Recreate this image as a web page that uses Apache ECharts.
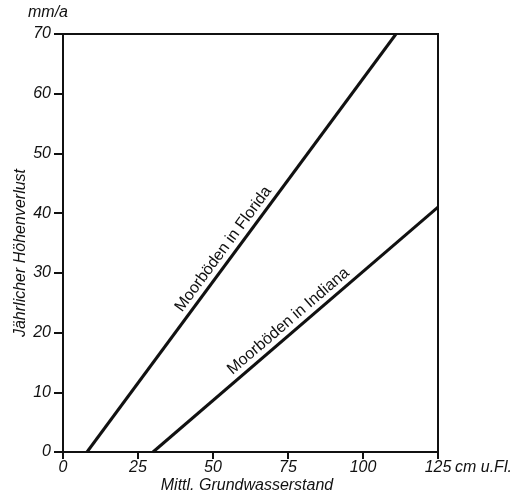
<!DOCTYPE html>
<html>
<head>
<meta charset="utf-8">
<script src="https://cdn.jsdelivr.net/npm/echarts@6/dist/echarts.min.js"></script>
<style>
  html, body { margin: 0; padding: 0; background: #fff; }
  #chart { width: 517px; height: 497px; }
</style>
</head>
<body>
<div id="chart"></div>
<script>
// values
const xTicks = [0, 25, 50, 75, 100, 125];
const yTicks = [0, 10, 20, 30, 40, 50, 60, 70];
const florida = [[8, 0], [111, 70]];
const indiana = [[30, 0], [125, 41]];
const floridaLabel = "Moorböden in Florida";
const indianaLabel = "Moorböden in Indiana";

const font = "'Liberation Sans', Arial, sans-serif";
const myChart = echarts.init(document.getElementById("chart"));

const option = {
  animation: false,
  grid: {
    left: 63,
    right: 79,
    top: 34,
    bottom: 45,
    show: true,
    borderColor: "#111",
    borderWidth: 2,
  },
  xAxis: {
    type: "value",
    min: xTicks[0],
    max: xTicks[xTicks.length - 1],
    interval: xTicks[1] - xTicks[0],
    axisLine: { show: true, lineStyle: { color: "#111", width: 2 } },
    axisTick: { show: true, length: 7, lineStyle: { color: "#111", width: 2 } },
    axisLabel: {
      color: "#111",
      fontSize: 16,
      fontStyle: "italic",
      fontFamily: font,
      margin: 8,
    },
    splitLine: { show: false },
  },
  yAxis: {
    type: "value",
    min: yTicks[0],
    max: yTicks[yTicks.length - 1],
    interval: yTicks[1] - yTicks[0],
    axisLine: { show: true, lineStyle: { color: "#111", width: 2 } },
    axisTick: { show: true, length: 9, lineStyle: { color: "#111", width: 2 } },
    axisLabel: {
      color: "#111",
      fontSize: 16,
      fontStyle: "italic",
      fontFamily: font,
      margin: 12,
    },
    splitLine: { show: false },
  },
  series: [
    {
      type: "line",
      data: florida,
      symbol: "none",
      lineStyle: { color: "#111", width: 3 },
    },
    {
      type: "line",
      data: indiana,
      symbol: "none",
      lineStyle: { color: "#111", width: 3 },
    },
  ],
};

myChart.setOption(option);

// label a line along its slope, a bit above it
const lineLabel = (pts, t, text) => {
  const a = myChart.convertToPixel({ gridIndex: 0 }, pts[0]);
  const b = myChart.convertToPixel({ gridIndex: 0 }, pts[1]);
  const ang = Math.atan2(a[1] - b[1], b[0] - a[0]);
  const x = a[0] + (b[0] - a[0]) * t - Math.sin(ang) * 11;
  const y = a[1] + (b[1] - a[1]) * t - Math.cos(ang) * 11;
  return {
    type: "text",
    x: x,
    y: y,
    rotation: ang,
    style: {
      text: text,
      fill: "#111",
      font: "16px " + font,
      textAlign: "center",
      textVerticalAlign: "middle",
    },
  };
};

myChart.setOption({
  graphic: [
    lineLabel(florida, 0.47, floridaLabel),
    lineLabel(indiana, 0.5, indianaLabel),
    {
      type: "text",
      left: 28,
      top: 5,
      style: { text: "mm/a", fill: "#111", font: "italic 16px " + font },
    },
    {
      type: "text",
      left: 455,
      top: 460,
      style: { text: "cm u.Fl.", fill: "#111", font: "italic 16px " + font },
    },
    {
      type: "text",
      x: 247,
      y: 486,
      style: {
        text: "Mittl. Grundwasserstand",
        fill: "#111",
        font: "italic 16px " + font,
        textAlign: "center",
        textVerticalAlign: "middle",
      },
    },
    {
      type: "text",
      x: 21,
      y: 253,
      rotation: Math.PI / 2,
      style: {
        text: "Jährlicher Höhenverlust",
        fill: "#111",
        font: "italic 16px " + font,
        textAlign: "center",
        textVerticalAlign: "middle",
      },
    },
  ],
});
</script>
</body>
</html>
